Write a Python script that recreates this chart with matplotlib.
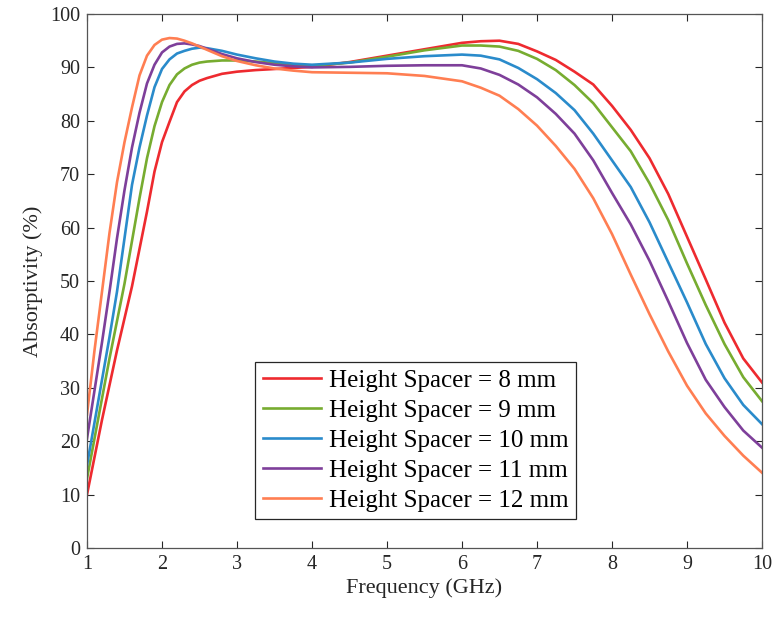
import matplotlib
matplotlib.use("Agg")
import matplotlib.pyplot as plt

freq = [1.0, 1.1, 1.2, 1.3, 1.4, 1.5, 1.6, 1.7, 1.8, 1.9, 2.0, 2.1, 2.2, 2.3, 2.4,
        2.5, 2.6, 2.8, 3.0, 3.25, 3.5, 3.75, 4.0, 4.5, 5.0, 5.5, 6.0, 6.25, 6.5,
        6.75, 7.0, 7.25, 7.5, 7.75, 8.0, 8.25, 8.5, 8.75, 9.0, 9.25, 9.5, 9.75, 10.0]

h8 = [10, 17, 24, 30.5, 37, 43, 49, 56, 63, 70.5, 76, 79.8, 83.5, 85.5, 86.7,
      87.5, 88, 88.8, 89.2, 89.5, 89.7, 89.9, 90.1, 91.0, 92.2, 93.4, 94.6, 94.9, 95.0,
      94.4, 93.0, 91.4, 89.2, 86.8, 82.8, 78.3, 73, 66.3, 58.3, 50.3, 42.2, 35.5, 31]
h9 = [13, 20.5, 28, 35.5, 42.5, 49.5, 57.5, 65.5, 73, 79, 83.5, 86.7, 88.7, 89.8, 90.5,
      90.9, 91.1, 91.3, 91.3, 91.1, 90.8, 90.5, 90.3, 90.9, 92.0, 93.2, 94.1, 94.1, 93.9,
      93.1, 91.6, 89.5, 86.7, 83.3, 78.8, 74.3, 68.3, 61.4, 53.3, 45.5, 38.2, 32, 27.5]
h10 = [15.5, 23.5, 31.5, 39.5, 48, 58, 68, 75, 81, 86.3, 89.7, 91.5, 92.6, 93.1, 93.5,
       93.7, 93.6, 93.1, 92.4, 91.7, 91.1, 90.7, 90.5, 90.9, 91.6, 92.1, 92.4, 92.2, 91.5,
       89.9, 87.8, 85.2, 82.0, 77.6, 72.6, 67.6, 61.0, 53.5, 46, 38.2, 31.8, 26.8, 23.2]
h11 = [20.5, 29.5, 38.5, 48, 58, 67, 75, 81.5, 87, 90.5, 92.8, 93.9, 94.4, 94.5, 94.3,
       94.0, 93.5, 92.5, 91.7, 91.0, 90.5, 90.2, 90.0, 90.1, 90.3, 90.4, 90.4, 89.8, 88.6,
       86.8, 84.4, 81.3, 77.6, 72.6, 66.5, 60.6, 53.8, 46.2, 38.4, 31.5, 26.4, 22.0, 18.8]
h12 = [25, 37, 48, 59, 68.5, 76, 82.5, 88.5, 92.2, 94.2, 95.2, 95.5, 95.4, 95.0, 94.5,
       93.9, 93.3, 92.1, 91.2, 90.4, 89.8, 89.4, 89.1, 89.0, 88.9, 88.4, 87.4, 86.2, 84.7,
       82.2, 79.1, 75.3, 71.0, 65.5, 58.8, 51.2, 43.8, 36.8, 30.4, 25.2, 21.0, 17.3, 14.1]

labels = ["Height Spacer = 8 mm", "Height Spacer = 9 mm", "Height Spacer = 10 mm",
          "Height Spacer = 11 mm", "Height Spacer = 12 mm"]
series = [h8, h9, h10, h11, h12]
colors = ["#EE2A2F", "#77AC30", "#2A8BCB", "#7E3F9A", "#FF7E52"]

plt.rcParams['font.family'] = ['Liberation Serif', 'DejaVu Serif']

fig = plt.figure(figsize=(7.74, 6.17), dpi=100)
ax = fig.add_axes([0.1124, 0.1118, 0.8721, 0.8655])

for ys, c, lab in zip(series, colors, labels):
    ax.plot(freq, ys, color=c, lw=1.9, label=lab)

ax.set_xlim(1, 10)
ax.set_ylim(0, 100)
ax.set_xticks(range(1, 11))
ax.set_yticks(range(0, 101, 10))
ax.tick_params(direction='in', top=True, right=True, length=5, width=0.8,
               labelsize=14.5, colors='#262626', pad=5)
for s in ax.spines.values():
    s.set_color('#555555')
    s.set_linewidth(0.9)
ax.set_xlabel("Frequency (GHz)", fontsize=16, color='#262626', labelpad=3)
ax.set_ylabel("Absorptivity (%)", fontsize=16, color='#262626', labelpad=5)

leg = ax.legend(loc='lower left', bbox_to_anchor=(0.249, 0.054), borderaxespad=0,
                fontsize=18, handlelength=2.35, handletextpad=0.3, labelspacing=0.3,
                fancybox=False, framealpha=1, borderpad=0.3)
leg.get_frame().set_edgecolor('#262626')
leg.get_frame().set_linewidth(0.9)

fig.savefig("out.png", dpi=100)
